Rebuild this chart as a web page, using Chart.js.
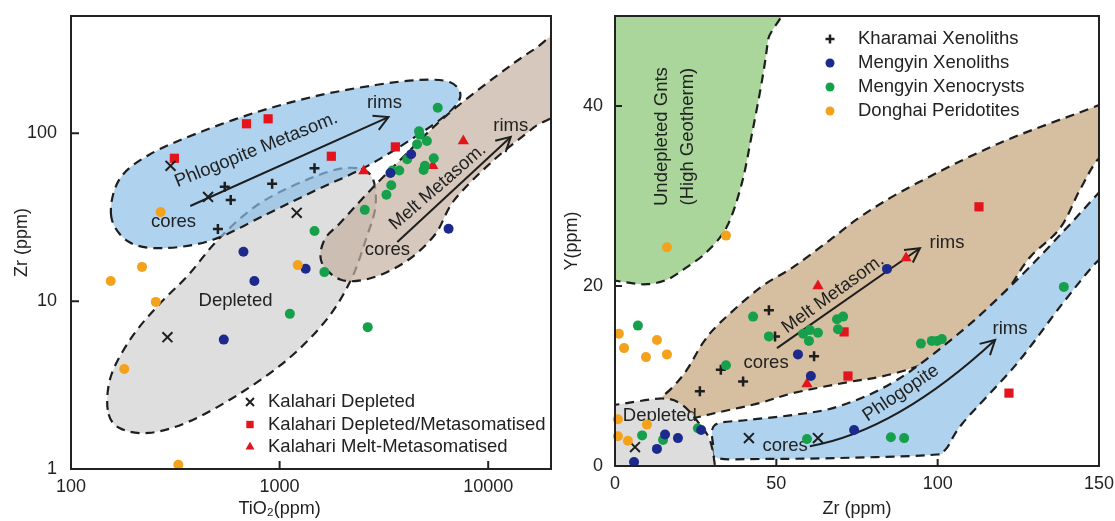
<!DOCTYPE html>
<html>
<head>
<meta charset="utf-8">
<title>Garnet Zr - TiO2 and Y - Zr</title>
<style>
  body { margin: 0; background: #fff; }
  canvas { position: absolute; top: 0; }
  #chartTi { left: 0; }
  #chartY { left: 560px; }
</style>
</head>
<body>
<canvas id="chartTi" width="560" height="521"></canvas>
<canvas id="chartY" width="555" height="521"></canvas>
<script src="https://cdn.jsdelivr.net/npm/chart.js@4.4.1/dist/chart.umd.min.js"></script>
<script>
// ---------- left diagram : Zr vs TiO2 (ppm), log-log ----------
const tiTicks = [100, 1000, 10000];
const zrLogTicks = [1, 10, 100];

const kharTi = [546, 583, 921, 506, 1470];
const kharZr = [48, 40, 50, 26.9, 62];
const kalDepTi = [300, 454, 1208, 290];
const kalDepZr = [64, 41.8, 33.6, 6.1];
const kalMetTi = [313, 694, 881, 1770, 3589];
const kalMetZr = [71, 114, 122, 73, 83];
const kalMeltTi = [2533, 5425, 7600];
const kalMeltZr = [59.7, 64, 90];
const myXenoTi = [671, 757, 540, 1333, 4270, 3398, 6457];
const myXenoZr = [19.7, 13.2, 5.9, 15.6, 75, 58, 27];
const myCrystTi = [5730, 4660, 4700, 4560, 5083, 4087, 5485, 4975, 4900, 3473, 3748, 3430, 3252, 2560, 1470, 1639, 1120, 2645];
const myCrystZr = [142, 103, 98, 86, 90, 70, 71, 64, 60.5, 60, 60, 49, 43, 35, 26.2, 14.9, 8.4, 7.0];
const donghaiTi = [269, 219, 155, 255, 180, 327, 1222];
const donghaiZr = [34, 16, 13.2, 9.9, 3.94, 1.06, 16.4];

// field outlines, [TiO2, Zr]
const depFieldL = [[150,2.25],[156,3.63],[196,6.12],[263,9.49],[365,14.3],[506,23.2],[782,37.4],[1348,52.8],[2083,62.2],[2730,56.5],[2886,37.4],[2588,23.2],[2199,13.4],[1675,7.73],[1084,4.46],[629,2.76],[365,1.91],[236,1.64],[170,1.76]];
const phlogFieldL = [[156,31.8],[170,52.8],[236,74.3],[407,100.6],[782,134],[1502,167],[2886,194],[4710,208],[6530,202],[7360,169],[6530,134],[4460,95.2],[2588,63.1],[1502,46],[872,33.1],[479,23.2],[278,20.7],[190,22.5]];
const meltFieldL = [[22800,386],[22800,148],[16500,108],[10650,69.4],[6890,40.1],[5540,24.8],[4000,17.1],[2730,13.7],[1970,13.4],[1590,17.1],[1640,23.2],[1970,29.6],[2730,46],[4000,74.3],[6180,125],[10650,214],[16460,314]];

// ---------- right diagram : Y vs Zr (ppm) ----------
const zrTicks = [0, 50, 100, 150];
const yTicks = [0, 20, 40];

const kharZr2 = [47.7, 49.6, 61.7, 32.8, 39.7, 26.3];
const kharY = [17.3, 14.4, 12.2, 10.7, 9.4, 8.3];
const kalDepZr2 = [6.2, 41.5, 62.9];
const kalDepY = [2.1, 3.1, 3.1];
const kalMetZr2 = [112.8, 71.0, 72.2, 122.1];
const kalMetY = [28.8, 14.9, 10.0, 8.1];
const kalMeltZr2 = [90.2, 62.9, 59.5];
const kalMeltY = [23.1, 20.0, 9.1];
const myXenoZr2 = [5.9, 13.0, 15.5, 19.5, 26.7, 56.7, 60.7, 84.3, 74.1];
const myXenoY = [0.44, 1.9, 3.5, 3.1, 4.0, 12.4, 10.0, 21.9, 4.0];
const myCrystZr2 = [7.1, 8.4, 14.9, 25.7, 34.4, 42.8, 47.7, 58.3, 60.4, 60.1, 62.9, 59.5, 68.8, 70.7, 69.1, 94.8, 98.2, 99.8, 101.3, 85.5, 89.6, 139.1];
const myCrystY = [15.6, 3.4, 2.9, 4.2, 11.2, 16.6, 14.4, 14.7, 15.1, 13.9, 14.8, 3.0, 16.3, 16.6, 15.2, 13.6, 13.9, 13.9, 14.1, 3.2, 3.1, 19.9];
const donghaiZr2 = [34.4, 16.1, 1.2, 2.8, 9.6, 13.0, 16.1, 0.9, 9.9, 0.9, 4.0];
const donghaiY = [25.6, 24.3, 14.7, 13.1, 12.1, 14.0, 12.4, 5.2, 4.6, 3.3, 2.8];

// field outlines, [Zr, Y]
const greenFieldR = [[-5,52],[48.7,52],[47.4,47.3],[45.6,42.9],[42.5,37.0],[39.3,31.4],[34.7,26.6],[28.5,23.8],[22.3,22.1],[16.1,20.7],[9.9,20.2],[3.7,20.4],[-5,21],[-5,22]];
const meltFieldR = [[12.4,6.8],[18,8.8],[22.3,10.7],[27.3,13.7],[32.5,15.9],[44.9,19.8],[55.2,22.1],[66.6,25.1],[76.9,27.9],[92.4,31.2],[119.3,35.9],[150,40.1],[156,41.2],[156,35],[150,34.2],[144.1,30.7],[137.9,26.4],[128.6,23.2],[122.4,19.9],[115.3,16.2],[107.8,14.0],[100.7,12.1],[92.4,10.9],[82.1,9.9],[71.9,9.3],[55.2,8.1],[44.9,7.0],[32.5,6.0],[23.2,5.3],[13.9,5.3]];
const phlogFieldR = [[30.4,2.33],[31.0,4.56],[40.9,5.11],[55.2,5.67],[69.7,6.67],[87.4,9.55],[107.8,15.1],[124.6,20.7],[138.8,26.0],[150,30.4],[155,32.3],[155,23.4],[150,22.9],[138.8,18.1],[124.6,11.4],[107.8,4.78],[102.3,1.78],[97.6,1.22],[69.7,0.89],[44.9,0.78],[31.6,0.89]];
const depFieldR = [[-5,-1],[-5,6.8],[0,6.8],[14.6,7.5],[20.8,6.8],[25.7,4.9],[29.4,2.9],[31,0],[31.2,-1]];

const FONT = '"Liberation Sans", Arial, "DejaVu Sans", sans-serif';
Chart.defaults.font.family = FONT;
Chart.defaults.font.size = 18;
Chart.defaults.color = '#222';

const INK = '#1e1e1e';
const S = {
  khar:    { pointStyle: 'cross',    pointRadius: 5,   borderWidth: 2.5, borderColor: INK, backgroundColor: INK },
  kalDep:  { pointStyle: 'crossRot', pointRadius: 7,   borderWidth: 2,   borderColor: INK, backgroundColor: INK },
  kalMet:  { pointStyle: 'rect',     pointRadius: 6.5, borderWidth: 0,   borderColor: '#e3141c', backgroundColor: '#e3141c' },
  kalMelt: { pointStyle: 'triangle', pointRadius: 6.5, borderWidth: 0,   borderColor: '#e3141c', backgroundColor: '#e3141c' },
  myXeno:  { pointStyle: 'circle',   pointRadius: 5,   borderWidth: 0,   borderColor: '#1c2a8c', backgroundColor: '#1c2a8c' },
  myCryst: { pointStyle: 'circle',   pointRadius: 5,   borderWidth: 0,   borderColor: '#17a04b', backgroundColor: '#17a04b' },
  donghai: { pointStyle: 'circle',   pointRadius: 5,   borderWidth: 0,   borderColor: '#f4a21c', backgroundColor: '#f4a21c' }
};

function series(style, xs, ys) {
  return Object.assign({ data: xs.map((x, i) => ({ x: x, y: ys[i] })), showLine: false, clip: false, pointHoverRadius: 0 }, style);
}

// closed Catmull-Rom curve through pixel points
function smoothPath(ctx, pts) {
  const n = pts.length;
  ctx.beginPath();
  ctx.moveTo(pts[0][0], pts[0][1]);
  for (let i = 0; i < n; i++) {
    const p0 = pts[(i - 1 + n) % n], p1 = pts[i], p2 = pts[(i + 1) % n], p3 = pts[(i + 2) % n];
    ctx.bezierCurveTo(p1[0] + (p2[0] - p0[0]) / 6, p1[1] + (p2[1] - p0[1]) / 6,
                      p2[0] - (p3[0] - p1[0]) / 6, p2[1] - (p3[1] - p1[1]) / 6, p2[0], p2[1]);
  }
  ctx.closePath();
}

function marker(ctx, st, x, y) {
  ctx.save();
  ctx.fillStyle = st.backgroundColor;
  ctx.strokeStyle = st.borderColor;
  ctx.lineWidth = st.borderWidth;
  Chart.helpers.drawPoint(ctx, { pointStyle: st.pointStyle, radius: st.pointRadius, rotation: 0, borderWidth: st.borderWidth }, x, y);
  ctx.restore();
}

function overlay(cfg) {
  return {
    id: 'overlay',
    beforeDatasetsDraw(chart) {
      const { ctx, chartArea: a } = chart;
      const xs = chart.scales.x, ys = chart.scales.y;
      const P = p => [xs.getPixelForValue(p[0]), ys.getPixelForValue(p[1])];
      ctx.save();
      ctx.beginPath();
      ctx.rect(a.left, a.top, a.right - a.left, a.bottom - a.top);
      ctx.clip();
      cfg.fields.forEach(f => {
        smoothPath(ctx, f.pts.map(P));
        ctx.fillStyle = f.fill;
        ctx.fill();
        ctx.setLineDash([9, 6]);
        ctx.lineWidth = 2.2;
        ctx.strokeStyle = INK;
        ctx.stroke();
        ctx.setLineDash([]);
      });
      ctx.restore();

      // trend arrows
      ctx.save();
      ctx.strokeStyle = INK;
      ctx.lineWidth = 2;
      cfg.arrows.forEach(ar => {
        const p = ar.map(P);
        ctx.beginPath();
        ctx.moveTo(p[0][0], p[0][1]);
        if (p.length === 4) ctx.bezierCurveTo(p[1][0], p[1][1], p[2][0], p[2][1], p[3][0], p[3][1]);
        else ctx.lineTo(p[1][0], p[1][1]);
        ctx.stroke();
        const e = p[p.length - 1], b = p[p.length - 2];
        const ang = Math.atan2(e[1] - b[1], e[0] - b[0]);
        ctx.beginPath();
        ctx.moveTo(e[0] - 16 * Math.cos(ang - 0.5), e[1] - 16 * Math.sin(ang - 0.5));
        ctx.lineTo(e[0], e[1]);
        ctx.lineTo(e[0] - 16 * Math.cos(ang + 0.5), e[1] - 16 * Math.sin(ang + 0.5));
        ctx.stroke();
      });

      // field names
      ctx.fillStyle = '#222';
      ctx.font = '18.5px ' + FONT;
      ctx.textAlign = 'center';
      ctx.textBaseline = 'middle';
      cfg.labels.forEach(l => {
        const q = P(l.at);
        ctx.save();
        ctx.translate(q[0], q[1]);
        ctx.rotate((l.rot || 0) * Math.PI / 180);
        ctx.fillText(l.text, 0, 0);
        ctx.restore();
      });
      ctx.restore();
    },
    afterDraw(chart) {
      const { ctx, chartArea: a } = chart;
      const xs = chart.scales.x, ys = chart.scales.y;
      ctx.save();
      ctx.strokeStyle = '#222';
      ctx.lineWidth = 2;
      ctx.strokeRect(a.left, a.top, a.right - a.left, a.bottom - a.top);
      ctx.beginPath();
      xs.ticks.forEach(t => {
        const p = xs.getPixelForValue(t.value);
        ctx.moveTo(p, a.bottom); ctx.lineTo(p, a.bottom - cfg.tick);
      });
      ys.ticks.forEach(t => {
        const p = ys.getPixelForValue(t.value);
        ctx.moveTo(a.left, p); ctx.lineTo(a.left + cfg.tick, p);
      });
      ctx.stroke();

      // legend
      const lg = cfg.legend;
      ctx.font = '18.5px ' + FONT;
      ctx.fillStyle = '#222';
      ctx.textAlign = 'left';
      ctx.textBaseline = 'middle';
      lg.items.forEach((it, i) => {
        const y = lg.y + i * lg.dy;
        marker(ctx, Object.assign({}, it.style, { pointRadius: it.style.pointRadius * lg.scale }), lg.x, y);
        ctx.fillText(it.text, lg.tx, y);
      });

      if (cfg.xTitle) {
        ctx.textAlign = 'center';
        ctx.font = '18px ' + FONT;
        ctx.fillText(cfg.xTitle, xs.getPixelForValue(cfg.xTitleAt), 509);
      }
      ctx.restore();
    }
  };
}

function axis(type, min, max, tickList, size, pad, title, titlePad) {
  const horiz = size.height !== undefined;
  return {
    type: type, min: min, max: max,
    grid: { display: false, drawTicks: false },
    border: { display: false },
    ticks: { padding: pad, autoSkip: false, maxRotation: 0, callback: v => String(v) },
    title: title ? { display: true, text: title, font: { size: 18 }, padding: titlePad } : { display: false },
    afterBuildTicks: s => { s.ticks = tickList.map(v => ({ value: v })); },
    afterFit: s => {
      if (horiz) { s.height = size.height; s.paddingLeft = 0; s.paddingRight = 0; }
      else { s.width = size.width; s.paddingTop = 0; s.paddingBottom = 0; }
    }
  };
}

const common = {
  responsive: false,
  animation: false,
  events: [],
  plugins: { legend: { display: false }, tooltip: { enabled: false } }
};

new Chart(document.getElementById('chartTi'), {
  type: 'scatter',
  data: {
    datasets: [
      series(S.donghai, donghaiTi, donghaiZr),
      series(S.myXeno, myXenoTi, myXenoZr),
      series(S.myCryst, myCrystTi, myCrystZr),
      series(S.khar, kharTi, kharZr),
      series(S.kalDep, kalDepTi, kalDepZr),
      series(S.kalMet, kalMetTi, kalMetZr),
      series(S.kalMelt, kalMeltTi, kalMeltZr)
    ]
  },
  options: Object.assign({}, common, {
    layout: { padding: { top: 16, right: 2, left: 0, bottom: 0 } },
    scales: {
      x: axis('logarithmic', 100, 20000, tiTicks, { height: 52 }, 7, null),
      y: axis('logarithmic', 1, 500, zrLogTicks, { width: 71 }, 14, 'Zr (ppm)', { top: 11, bottom: 0 })
    }
  }),
  plugins: [overlay({
    tick: 8,
    fields: [
      { pts: depFieldL, fill: 'rgb(222,222,222)' },
      { pts: phlogFieldL, fill: 'rgba(141,191,231,0.7)' },
      { pts: meltFieldL, fill: 'rgba(196,176,159,0.7)' }
    ],
    arrows: [
      [[373, 36.9], [3324, 125]],
      [[3667, 22.5], [12820, 95.2]]
    ],
    labels: [
      { text: 'Phlogopite Metasom.', at: [773, 79.6], rot: -22 },
      { text: 'rims', at: [3180, 152] },
      { text: 'cores', at: [310, 29.6] },
      { text: 'Melt Metasom.', at: [5730, 47.9], rot: -41 },
      { text: 'rims', at: [12820, 111] },
      { text: 'cores', at: [3289, 20.3] },
      { text: 'Depleted', at: [615, 10] }
    ],
    legend: {
      x: 250, tx: 268, y: 402, dy: 22.5, scale: 0.8,
      items: [
        { style: S.kalDep, text: 'Kalahari Depleted' },
        { style: S.kalMet, text: 'Kalahari Depleted/Metasomatised' },
        { style: S.kalMelt, text: 'Kalahari Melt-Metasomatised' }
      ]
    },
    xTitle: 'TiO\u2082(ppm)',
    xTitleAt: 1000
  })]
});

new Chart(document.getElementById('chartY'), {
  type: 'scatter',
  data: {
    datasets: [
      series(S.donghai, donghaiZr2, donghaiY),
      series(S.myXeno, myXenoZr2, myXenoY),
      series(S.myCryst, myCrystZr2, myCrystY),
      series(S.khar, kharZr2, kharY),
      series(S.kalDep, kalDepZr2, kalDepY),
      series(S.kalMet, kalMetZr2, kalMetY),
      series(S.kalMelt, kalMeltZr2, kalMeltY)
    ]
  },
  options: Object.assign({}, common, {
    layout: { padding: { top: 16, right: 16, left: 0, bottom: 0 } },
    scales: {
      x: axis('linear', 0, 150, zrTicks, { height: 55 }, 7, 'Zr (ppm)', { top: 0, bottom: 1 }),
      y: axis('linear', 0, 50, yTicks, { width: 55 }, 12, 'Y(ppm)', { top: 1, bottom: 0 })
    }
  }),
  plugins: [overlay({
    tick: 7,
    fields: [
      { pts: meltFieldR, fill: 'rgb(214,190,160)' },
      { pts: phlogFieldR, fill: 'rgb(175,210,238)' },
      { pts: greenFieldR, fill: 'rgb(170,214,156)' },
      { pts: depFieldR, fill: 'rgb(221,221,221)' }
    ],
    arrows: [
      [[50.2, 13.1], [94.5, 24.2]],
      [[60.4, 2.2], [79.0, 3.4], [97.6, 7.3], [117.8, 14.0]]
    ],
    labels: [
      { text: 'Undepleted Gnts', at: [14.6, 36.6], rot: -90 },
      { text: '(High Geotherm)', at: [22.6, 36.6], rot: -90 },
      { text: 'Melt Metasom.', at: [67.6, 19.1], rot: -36 },
      { text: 'rims', at: [102.9, 24.8] },
      { text: 'cores', at: [46.8, 11.4] },
      { text: 'Phlogopite', at: [88.6, 8.1], rot: -34 },
      { text: 'rims', at: [122.4, 15.2] },
      { text: 'cores', at: [52.7, 2.2] },
      { text: 'Depleted', at: [13.9, 5.6] }
    ],
    legend: {
      x: 270, tx: 298, y: 39, dy: 24, scale: 0.9,
      items: [
        { style: S.khar, text: 'Kharamai Xenoliths' },
        { style: S.myXeno, text: 'Mengyin Xenoliths' },
        { style: S.myCryst, text: 'Mengyin Xenocrysts' },
        { style: S.donghai, text: 'Donghai Peridotites' }
      ]
    }
  })]
});
</script>
</body>
</html>
